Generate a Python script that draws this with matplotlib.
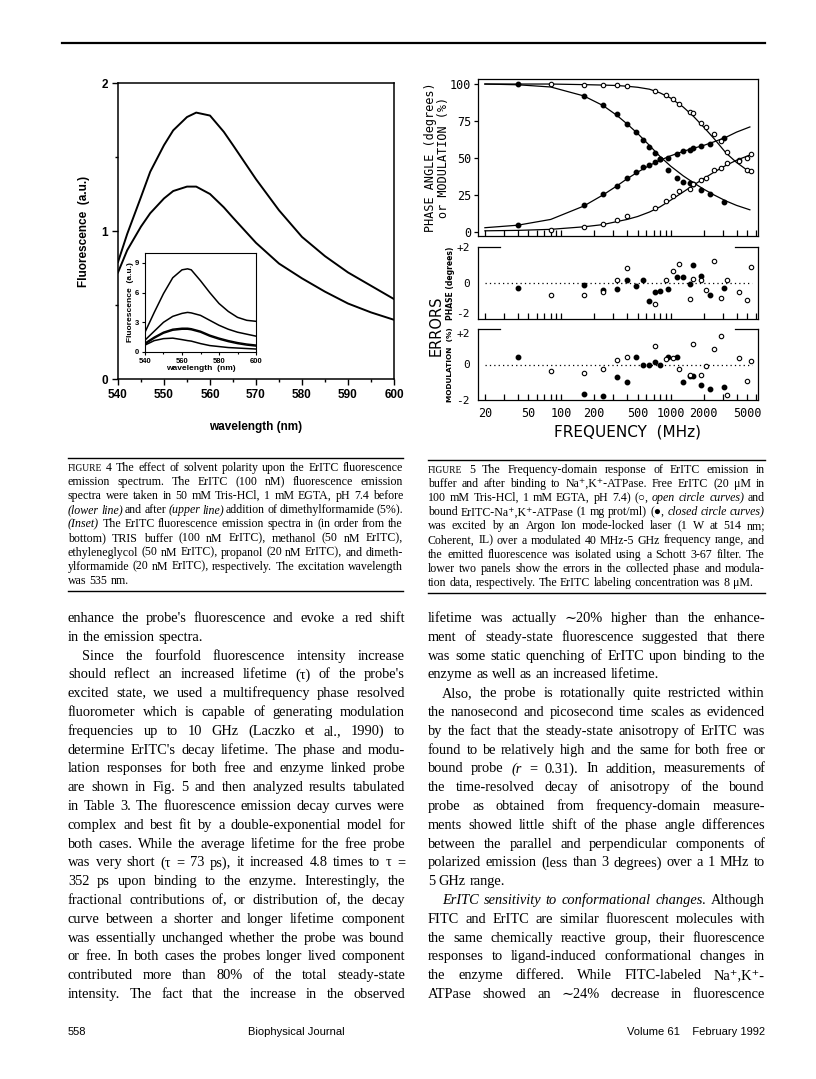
import numpy as np
import matplotlib
matplotlib.use("Agg")
import matplotlib.pyplot as plt
from matplotlib.font_manager import FontProperties
from matplotlib.ticker import LogLocator, NullFormatter, FixedLocator

W, H = 816, 1079

# --- FIGURE 4 DATA (emission spectra) ---
wl_main = [540, 542, 545, 547, 550, 552, 555, 557, 560, 563, 565, 570, 575, 580, 585, 590, 595, 600]
fl_upper = [0.79, 0.98, 1.23, 1.40, 1.58, 1.68, 1.77, 1.80, 1.78, 1.67, 1.58, 1.35, 1.14, 0.96, 0.83, 0.72, 0.63, 0.54]
fl_lower = [0.72, 0.87, 1.03, 1.12, 1.22, 1.27, 1.30, 1.30, 1.25, 1.16, 1.09, 0.92, 0.78, 0.68, 0.59, 0.51, 0.45, 0.40]

wl_inset = [540, 545, 550, 555, 560, 563, 565, 570, 575, 580, 585, 590, 595, 600]
fl_dmf = [2.0, 4.0, 5.9, 7.5, 8.3, 8.4, 8.3, 7.2, 6.0, 4.9, 4.1, 3.5, 3.2, 3.1]
fl_propanol = [1.2, 2.1, 3.0, 3.6, 3.9, 4.0, 3.95, 3.7, 3.2, 2.7, 2.3, 2.0, 1.8, 1.6]
fl_glycol = [0.9, 1.5, 2.0, 2.3, 2.4, 2.4, 2.35, 2.1, 1.7, 1.4, 1.15, 0.95, 0.8, 0.7]
fl_methanol = [0.8, 1.4, 1.9, 2.2, 2.3, 2.3, 2.25, 2.0, 1.6, 1.3, 1.05, 0.85, 0.7, 0.6]
fl_tris = [0.7, 1.15, 1.35, 1.4, 1.25, 1.15, 1.1, 0.85, 0.65, 0.55, 0.45, 0.4, 0.35, 0.3]

# --- FIGURE 5 DATA (frequency domain) ---
c_freq = [40, 160, 240, 320, 400, 480, 560, 640, 720, 800, 950, 1150, 1300, 1500, 1600, 1900, 2300, 3100]
c_phase = [4.5, 18.1, 25.5, 31.4, 36.8, 40.4, 43.8, 45.1, 47.6, 49.0, 50.3, 53.0, 54.6, 55.3, 56.7, 58.0, 59.4, 63.7]
c_mod = [100, 91.9, 85.6, 79.7, 72.7, 67.7, 61.9, 57.6, 53.7, 49.0, 41.8, 36.3, 33.6, 33.2, 32.3, 28.7, 25.5, 20.3]
c_phase_err = [-0.3, -0.13, -0.4, -0.35, 0.19, -0.19, 0.15, -1.02, -0.52, -0.46, -0.35, 0.33, 0.31, -0.07, 0.98, 0.41, -0.65, -0.26]
c_mod_err = [0.43, -1.68, -1.79, -0.72, -0.98, 0.4, -0.04, -0.04, 0.13, 0.0, 0.43, 0.43, -0.98, -0.66, -0.66, -1.15, -1.38, -1.28]

o_freq = [80, 160, 240, 320, 400, 720, 900, 1050, 1200, 1500, 1600, 1900, 2100, 2500, 2900, 3300, 4200, 5000, 5400]
o_phase = [1.1, 3.6, 5.4, 8.1, 10.8, 16.3, 20.8, 24.4, 27.5, 29.3, 32.7, 35.4, 36.8, 42.2, 43.1, 46.3, 48.5, 49.7, 52.4]
o_mod = [100, 99.3, 99.3, 99.3, 99.0, 95.5, 92.3, 89.6, 86.2, 80.8, 80.1, 73.8, 71.1, 66.4, 61.4, 54.2, 48.0, 42.2, 41.0]
o_phase_err = [-0.67, -0.65, -0.52, 0.15, 0.83, -1.19, 0.19, 0.67, 1.06, -0.91, 0.24, 0.15, -0.39, 1.2, -0.83, 0.15, -0.5, -0.93, 0.89]
o_mod_err = [-0.36, -0.49, -0.28, 0.25, 0.45, 1.02, 0.3, 0.34, -0.25, -0.57, 1.15, -0.57, -0.11, 0.85, 1.62, -1.7, 0.34, -0.94, 0.17]

# fitted curves
fit_freq = [20, 40, 80, 160, 240, 320, 400, 500, 640, 800, 1000, 1300, 1600, 2000, 2500, 3200, 4000, 5300]
c_phase_fit = [2.9, 4.6, 8.5, 17.5, 25.0, 31.0, 36.0, 40.5, 45.0, 48.5, 51.5, 54.5, 56.5, 58.5, 61.0, 64.0, 67.5, 71.0]
c_mod_fit = [100, 99.5, 98.0, 92.0, 85.5, 79.0, 73.0, 66.5, 58.5, 51.0, 44.5, 38.0, 33.5, 29.0, 25.0, 21.0, 18.0, 15.0]
o_phase_fit = [0.8, 1.1, 1.8, 3.5, 5.0, 7.0, 8.5, 10.5, 13.5, 17.0, 21.5, 27.0, 31.5, 36.0, 40.5, 45.0, 48.5, 52.0]
o_mod_fit = [100, 100, 100, 99.6, 99.3, 99.0, 98.5, 97.8, 96.5, 94.0, 90.5, 84.5, 78.5, 71.0, 63.0, 53.5, 47.0, 40.5]

freq_ticks = [20, 50, 100, 200, 500, 1000, 2000, 5000]

# --- PAGE TEXT ---
cap4 = [
    "^FIGURE 4  The effect of solvent polarity upon the ErITC fluorescence",
    "emission spectrum. The ErITC (100 nM) fluorescence emission",
    "spectra were taken in 50 mM Tris-HCl, 1 mM EGTA, pH 7.4 before",
    "({lower line}) and after ({upper line}) addition of dimethylformamide (5%).",
    "({Inset}) The ErITC fluorescence emission spectra in (in order from the",
    "bottom) TRIS buffer (100 nM ErITC), methanol (50 nM ErITC),",
    "ethyleneglycol (50 nM ErITC), propanol (20 nM ErITC), and dimeth-",
    "ylformamide (20 nM ErITC), respectively. The excitation wavelength",
    "was 535 nm.",
]
cap5 = [
    "^FIGURE 5  The Frequency-domain response of ErITC emission in",
    "buffer and after binding to Na\u207a,K\u207a-ATPase. Free ErITC (20 \u03bcM in",
    "100 mM Tris-HCl, 1 mM EGTA, pH 7.4) (\u25cb, {open circle curves}) and",
    "bound ErITC-Na\u207a,K\u207a-ATPase (1 mg prot/ml) (\u25cf, {closed circle curves})",
    "was excited by an Argon Ion mode-locked laser (1 W at 514 nm;",
    "Coherent, IL) over a modulated 40 MHz-5 GHz frequency range, and",
    "the emitted fluorescence was isolated using a Schott 3-67 filter. The",
    "lower two panels show the errors in the collected phase and modula-",
    "tion data, respectively. The ErITC labeling concentration was 8 \u03bcM.",
]
body_left = [
    "enhance the probe's fluorescence and evoke a red shift",
    "in the emission spectra.",
    "Since the fourfold fluorescence intensity increase",
    "should reflect an increased lifetime (\u03c4) of the probe's",
    "excited state, we used a multifrequency phase resolved",
    "fluorometer which is capable of generating modulation",
    "frequencies up to 10 GHz (Laczko et al., 1990) to",
    "determine ErITC's decay lifetime. The phase and modu-",
    "lation responses for both free and enzyme linked probe",
    "are shown in Fig. 5 and then analyzed results tabulated",
    "in Table 3. The fluorescence emission decay curves were",
    "complex and best fit by a double-exponential model for",
    "both cases. While the average lifetime for the free probe",
    "was very short (\u03c4 = 73 ps), it increased 4.8 times to \u03c4 =",
    "352 ps upon binding to the enzyme. Interestingly, the",
    "fractional contributions of, or distribution of, the decay",
    "curve between a shorter and longer lifetime component",
    "was essentially unchanged whether the probe was bound",
    "or free. In both cases the probes longer lived component",
    "contributed more than 80% of the total steady-state",
    "intensity. The fact that the increase in the observed",
]
body_right = [
    "lifetime was actually \u223c20% higher than the enhance-",
    "ment of steady-state fluorescence suggested that there",
    "was some static quenching of ErITC upon binding to the",
    "enzyme as well as an increased lifetime.",
    "Also, the probe is rotationally quite restricted within",
    "the nanosecond and picosecond time scales as evidenced",
    "by the fact that the steady-state anisotropy of ErITC was",
    "found to be relatively high and the same for both free or",
    "bound probe ({r} = 0.31). In addition, measurements of",
    "the time-resolved decay of anisotropy of the bound",
    "probe as obtained from frequency-domain measure-",
    "ments showed little shift of the phase angle differences",
    "between the parallel and perpendicular components of",
    "polarized emission (less than 3 degrees) over a 1 MHz to",
    "5 GHz range.",
    "{ErITC sensitivity to conformational changes.} Although",
    "FITC and ErITC are similar fluorescent molecules with",
    "the same chemically reactive group, their fluorescence",
    "responses to ligand-induced conformational changes in",
    "the enzyme differed. While FITC-labeled Na\u207a,K\u207a-",
    "ATPase showed an \u223c24% decrease in fluorescence",
]
left_indent = [2]
left_last = [1]
right_indent = [4, 15]
right_last = [3, 14]

SERIF = ['Liberation Serif', 'DejaVu Serif', 'DejaVu Sans']
SANS_B = ['Liberation Sans', 'DejaVu Sans']
MONO = ['DejaVu Sans Mono']

fig = plt.figure(figsize=(W / 100, H / 100), dpi=100)
rend = fig.canvas.get_renderer()


def rect(l, t, r, b):
    return [l / W, 1 - b / H, (r - l) / W, (b - t) / H]


def hline(x0, x1, y, lw=1.0):
    fig.add_artist(plt.Line2D([x0 / W, x1 / W], [1 - y / H, 1 - y / H], color='k', lw=lw))


def parse(line):
    out = []
    ital = False
    for tok in line.split():
        sc = tok.startswith('^')
        tok = tok.lstrip('^')
        if '{' in tok:
            ital = True
            tok = tok.replace('{', '')
        end = '}' in tok
        tok = tok.replace('}', '')
        out.append((tok, ital, sc))
        if end:
            ital = False
    return out


def measure(s, p):
    return rend.get_text_width_height_descent(s, p, ismath=False)[0]


def text_line(line, x0, x1, y, size, justify=True, indent=0):
    words = parse(line)
    props = [FontProperties(family=SERIF, size=size * 0.8 if sc else size,
                            style='italic' if it else 'normal') for w, it, sc in words]
    widths = [measure(w, p) for (w, _, _), p in zip(words, props)]
    base = FontProperties(family=SERIF, size=size)
    space = measure('a a', base) - measure('aa', base)
    left = x0 + indent
    if justify and len(words) > 1:
        gap = max((x1 - left - sum(widths)) / (len(words) - 1), 1.0)
    else:
        gap = space
    x = left
    for (w, it, sc), p, wd in zip(words, props, widths):
        fig.text(x / W, 1 - y / H, w, fontproperties=p, va='baseline', ha='left')
        x += wd + gap


# --- page furniture ---
hline(62, 765, 43, lw=1.6)

# --- FIGURE 4 ---
ax = fig.add_axes(rect(118, 83, 394, 379))
ax.plot(wl_main, fl_upper, color='k', lw=1.4)
ax.plot(wl_main, fl_lower, color='k', lw=1.4)
ax.set_xlim(540, 600)
ax.set_ylim(0, 2)
ax.set_xticks([540, 550, 560, 570, 580, 590, 600])
ax.set_xticks([545, 555, 565, 575, 585, 595], minor=True)
ax.set_yticks([0, 1, 2])
ax.set_yticks([0.5, 1.5], minor=True)
ax.tick_params(direction='out', length=4, width=1, labelsize=8.5, pad=3)
ax.tick_params(which='minor', direction='out', length=2.5, width=1)
for lab in ax.get_xticklabels() + ax.get_yticklabels():
    lab.set_fontweight('bold')
    lab.set_family(SANS_B)
for s in ax.spines.values():
    s.set_linewidth(1.1)
fig.text(84 / W, 1 - 231 / H, "Fluorescence  (a.u.)", rotation=90, ha='center', va='center',
         fontsize=8.5, fontweight='bold', family=SANS_B)
fig.text(256 / W, 1 - 427 / H, "wavelength (nm)", ha='center', va='center',
         fontsize=8.5, fontweight='bold', family=SANS_B)

ins = fig.add_axes(rect(145, 253, 256, 352))
for ys in [fl_dmf, fl_propanol, fl_glycol, fl_methanol, fl_tris]:
    ins.plot(wl_inset, ys, color='k', lw=1.1)
ins.set_xlim(540, 600)
ins.set_ylim(0, 10)
ins.set_xticks([540, 560, 580, 600])
ins.set_xticks([550, 570, 590], minor=True)
ins.set_yticks([0, 3, 6, 9])
ins.tick_params(direction='out', length=2.5, width=0.8, labelsize=5.5, pad=1.5)
ins.tick_params(which='minor', direction='out', length=1.5, width=0.8)
for lab in ins.get_xticklabels() + ins.get_yticklabels():
    lab.set_fontweight('bold')
    lab.set_family(SANS_B)
ins.set_ylabel("Fluorescence  (a.u.)", fontsize=6, fontweight='bold', family=SANS_B, labelpad=1)
ins.set_xlabel("wavelength  (nm)", fontsize=6, fontweight='bold', family=SANS_B, labelpad=0)

# --- FIGURE 5 ---
XL = (17.3, 6290)


def freq_axis(a, labels):
    a.set_xscale('log')
    a.set_xlim(*XL)
    a.xaxis.set_major_locator(FixedLocator(freq_ticks))
    a.xaxis.set_minor_locator(LogLocator(base=10, subs=np.arange(1, 10)))
    a.xaxis.set_minor_formatter(NullFormatter())
    a.tick_params(axis='x', which='both', direction='in', length=4.5, width=0.9, top=False)
    if labels:
        a.set_xticklabels([str(v) for v in freq_ticks], family=MONO, fontsize=8.5)
    else:
        a.set_xticklabels([])
    for s in a.spines.values():
        s.set_linewidth(0.9)


a1 = fig.add_axes(rect(478, 79, 758, 236))
a1.plot(fit_freq, c_phase_fit, 'k-', lw=0.9)
a1.plot(fit_freq, c_mod_fit, 'k-', lw=0.9)
a1.plot(fit_freq, o_phase_fit, 'k-', lw=0.9)
a1.plot(fit_freq, o_mod_fit, 'k-', lw=0.9)
a1.plot(c_freq, c_phase, 'o', color='k', ms=3.2)
a1.plot(c_freq, c_mod, 'o', color='k', ms=3.2)
a1.plot(o_freq, o_phase, 'o', mfc='white', mec='k', mew=0.8, ms=3.2)
a1.plot(o_freq, o_mod, 'o', mfc='white', mec='k', mew=0.8, ms=3.2)
a1.set_ylim(-2.7, 103.4)
a1.set_yticks([0, 25, 50, 75, 100])
a1.tick_params(axis='y', direction='out', length=3, width=0.9, labelsize=8.5, pad=2)
for lab in a1.get_yticklabels():
    lab.set_family(MONO)
freq_axis(a1, False)
fig.text(437 / W, 1 - 157 / H, "PHASE ANGLE (degrees)\nor MODULATION (%)", rotation=90,
         ha='center', va='center', family=MONO, fontsize=8.5, linespacing=0.95)


def err_axis(a, cvals, ovals):
    a.plot([20, 5500], [0, 0], color='k', ls=(0, (1, 2.5)), lw=0.9)
    a.plot(c_freq, cvals, 'o', color='k', ms=3.2)
    a.plot(o_freq, ovals, 'o', mfc='white', mec='k', mew=0.8, ms=3.2)
    a.set_ylim(-2, 2)
    a.set_yticks([-2, 0, 2])
    a.set_yticklabels(['-2', '0', '+2'], family=MONO, fontsize=8)
    a.tick_params(axis='y', length=0, pad=6)
    a.spines['top'].set_visible(False)
    a.plot([0, 0.077], [1, 1], transform=a.transAxes, color='k', lw=0.9, clip_on=False)
    a.plot([0.918, 1], [1, 1], transform=a.transAxes, color='k', lw=0.9, clip_on=False)


a2 = fig.add_axes(rect(478, 247, 758, 319))
err_axis(a2, c_phase_err, o_phase_err)
freq_axis(a2, False)
a2.spines['top'].set_visible(False)
a2.get_yticklabels()[0].set_verticalalignment('bottom')

a3 = fig.add_axes(rect(478, 329, 758, 400))
err_axis(a3, c_mod_err, o_mod_err)
freq_axis(a3, True)
a3.spines['top'].set_visible(False)
a3.get_yticklabels()[2].set_verticalalignment('top')
a3.tick_params(axis='x', pad=5)

fig.text(436 / W, 1 - 326 / H, "ERRORS", rotation=90, ha='center', va='center',
         family=['DejaVu Sans'], fontsize=10.5)
fig.text(450 / W, 1 - 283 / H, "PHASE (degrees)", rotation=90, ha='center', va='center',
         family=['DejaVu Sans'], fontsize=5.5, fontweight='bold')
fig.text(450 / W, 1 - 365 / H, "MODULATION  (%)", rotation=90, ha='center', va='center',
         family=['DejaVu Sans'], fontsize=5.3, fontweight='bold')
fig.text(627 / W, 1 - 432 / H, "FREQUENCY  (MHz)", ha='center', va='center',
         family=['DejaVu Sans'], fontsize=11)

# --- captions ---
CAP = 8.6
hline(68, 403, 458, lw=1.0)
for i, line in enumerate(cap4):
    text_line(line, 68, 403, 471 + 14.1 * i, CAP, justify=(i < len(cap4) - 1))
hline(68, 403, 591, lw=1.0)

hline(428, 765, 460, lw=1.0)
for i, line in enumerate(cap5):
    text_line(line, 428, 765, 473 + 14.1 * i, CAP, justify=(i < len(cap5) - 1))
hline(428, 765, 593, lw=1.0)

# --- body text ---
BODY = 10.4
for i, line in enumerate(body_left):
    text_line(line, 68, 405, 622 + 18.8 * i, BODY, justify=(i not in left_last),
              indent=14 if i in left_indent else 0)
for i, line in enumerate(body_right):
    text_line(line, 428, 765, 622 + 18.8 * i, BODY, justify=(i not in right_last),
              indent=14 if i in right_indent else 0)

# --- footer ---
fig.text(68 / W, 1 - 1035 / H, "558", family=SANS_B, fontsize=8, va='baseline')
fig.text(296 / W, 1 - 1035 / H, "Biophysical Journal", family=SANS_B, fontsize=8,
         va='baseline', ha='center')
fig.text(765 / W, 1 - 1035 / H, "Volume 61    February 1992", family=SANS_B, fontsize=8,
         va='baseline', ha='right')

fig.savefig("out.png", dpi=100, facecolor='white')
